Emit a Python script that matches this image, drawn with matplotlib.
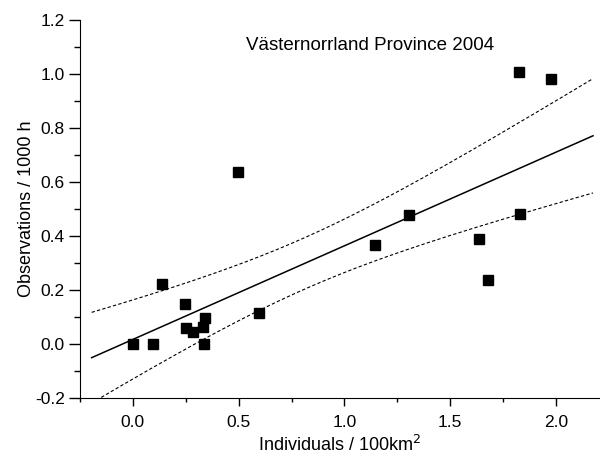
import matplotlib.pyplot as plt
import numpy as np

plt.rcParams['font.family'] = ['Liberation Sans', 'DejaVu Sans']

# data
ind = np.array([0.0, 0.093, 0.137, 0.246, 0.251, 0.282, 0.331, 0.342, 0.334, 0.594,
                0.496, 1.144, 1.303, 1.636, 1.677, 1.824, 1.975, 1.831])
obs = np.array([0.0, 0.0, 0.223, 0.149, 0.060, 0.046, 0.064, 0.098, 0.0, 0.115,
                0.637, 0.367, 0.478, 0.390, 0.236, 1.009, 0.980, 0.480])
fit_range = [-0.195, 2.175]

# linear fit and confidence band
n = len(ind)
slope, icpt = np.polyfit(ind, obs, 1)
res = obs - (slope * ind + icpt)
s = np.sqrt(np.sum(res ** 2) / (n - 2))
sxx = np.sum((ind - ind.mean()) ** 2)
t = 1.96
xf = np.linspace(fit_range[0], fit_range[1], 200)
yf = slope * xf + icpt
half = t * s * np.sqrt(1 / n + (xf - ind.mean()) ** 2 / sxx)

fig = plt.figure(figsize=(6, 4.54), dpi=100)
ax = fig.add_axes([80 / 600, 1 - 398 / 454, 1 - 80 / 600, (398 - 20) / 454])

ax.plot(xf, yf, color='k', lw=1.1)
ax.plot(xf, yf + half, color='k', lw=0.8, ls=(0, (3, 2)))
ax.plot(xf, yf - half, color='k', lw=0.8, ls=(0, (3, 2)))
ax.plot(ind, obs, 's', color='k', ms=6.5, ls='none')

ax.set_xlim(-0.25, 2.208)
ax.set_ylim(-0.2, 1.2)
ax.set_xticks([0.0, 0.5, 1.0, 1.5, 2.0])
ax.set_xticks([-0.25, 0.25, 0.75, 1.25, 1.75], minor=True)
ax.set_yticks(np.arange(-0.2, 1.21, 0.2))
ax.set_yticks(np.arange(-0.1, 1.2, 0.2), minor=True)
ax.set_xticklabels(['0.0', '0.5', '1.0', '1.5', '2.0'])
ax.set_yticklabels(['-0.2', '0.0', '0.2', '0.4', '0.6', '0.8', '1.0', '1.2'])
ax.tick_params(axis='y', which='major', direction='out', length=8, width=1, labelsize=12.5, pad=3)
ax.tick_params(axis='y', which='minor', direction='out', length=4, width=1)
ax.tick_params(axis='x', which='major', direction='out', length=6, width=1, labelsize=12.5, pad=6)
ax.tick_params(axis='x', which='minor', direction='out', length=3, width=1)
ax.spines['top'].set_visible(False)
ax.spines['right'].set_visible(False)

ax.text(1.12, 1.107, 'Västernorrland Province 2004', ha='center', va='center', fontsize=13.5)
ax.set_xlabel('Individuals / 100km$^2$', fontsize=13, labelpad=4)
ax.set_ylabel('Observations / 1000 h', fontsize=13, labelpad=0)

plt.savefig('out.png')
